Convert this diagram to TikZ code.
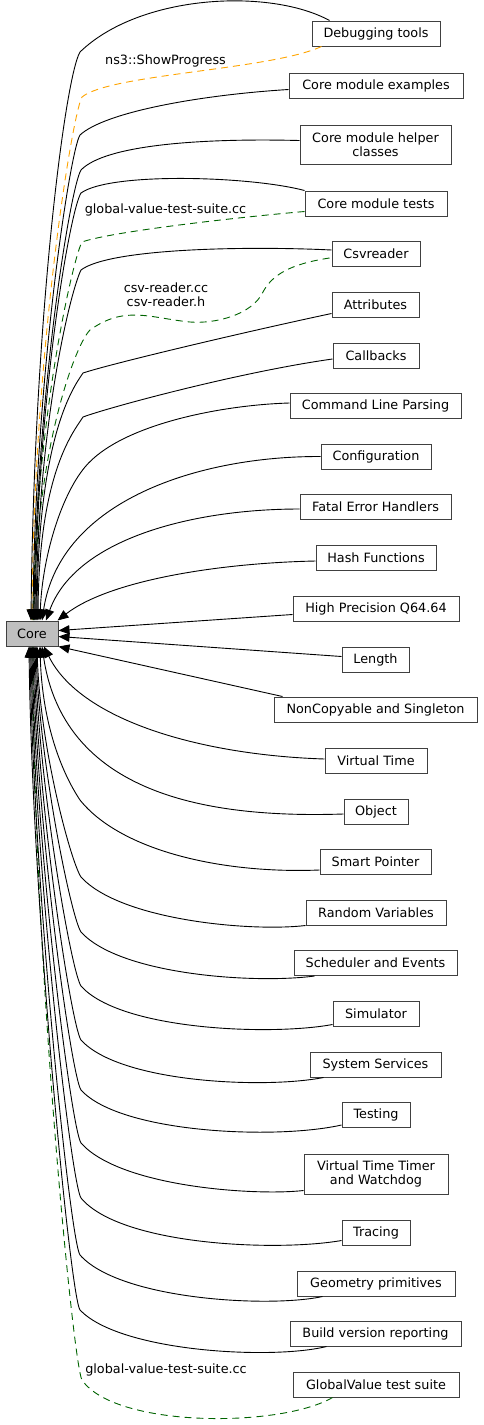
\documentclass[tikz,border=0pt]{standalone}
\usepackage{fontspec}
\setmainfont{DejaVu Sans}
\usetikzlibrary{arrows.meta,calc}
\definecolor{boxborder}{HTML}{404040}
\definecolor{corefill}{HTML}{BFBFBF}
\definecolor{dgreen}{HTML}{006400}
\definecolor{orng}{HTML}{FFA500}
\begin{document}
\begin{tikzpicture}[x=1pt,y=-1pt,
  grp/.style={draw=boxborder, fill=white, line width=1pt, inner sep=0pt, align=center,
    minimum height=25pt, font=\fontsize{12.8}{14}\selectfont},
  lbl/.style={inner sep=0pt, align=center, font=\fontsize{12.8}{14}\selectfont},
  dep/.style={draw=black, line width=0.9pt, -{Triangle[length=11pt,width=9pt]}},
  depg/.style={dep, draw=dgreen, dash pattern=on 7pt off 5pt},
  depo/.style={dep, draw=orng, dash pattern=on 7pt off 5pt}]
\useasboundingbox (0,0) rectangle (483,1425);
\fill[white] (0,0) rectangle (483,1425);
% nodes
\node[grp, minimum width=128pt] (dbg) at (376,33.5) {Debugging tools};
\node[grp, minimum width=174pt] (ex) at (376,85.5) {Core module examples};
\node[grp, minimum width=151pt, minimum height=39pt] (helper) at (375.5,144.5) {Core module helper\\classes};
\node[grp, minimum width=142pt] (tests) at (376,203.5) {Core module tests};
\node[grp, minimum width=88pt] (csv) at (376,254) {Csvreader};
\node[grp, minimum width=87pt] (attr) at (375.5,304.5) {Attributes};
\node[grp, minimum width=86pt] (cb) at (376,355.5) {Callbacks};
\node[grp, minimum width=171pt] (cmd) at (375.5,405.5) {Command Line Parsing};
\node[grp, minimum width=110pt] (conf) at (376,456.5) {Configuration};
\node[grp, minimum width=151pt] (fatal) at (375.5,507) {Fatal Error Handlers};
\node[grp, minimum width=120pt] (hash) at (376,557.5) {Hash Functions};
\node[grp, minimum width=166pt] (hp) at (376,608.5) {High Precision Q64.64};
\node[grp, minimum width=52pt, fill=corefill] (core) at (32,633.5) {Core};
\node[grp, minimum width=67pt] (len) at (375.5,659.5) {Length};
\node[grp, minimum width=203pt] (nc) at (375.5,709.5) {NonCopyable and Singleton};
\node[grp, minimum width=102pt] (vt) at (376,760.5) {Virtual Time};
\node[grp, minimum width=64pt] (obj) at (376,811.5) {Object};
\node[grp, minimum width=111pt] (sp) at (375.5,861.5) {Smart Pointer};
\node[grp, minimum width=140pt] (rv) at (376,912.5) {Random Variables};
\node[grp, minimum width=163pt] (sch) at (375.5,963) {Scheduler and Events};
\node[grp, minimum width=86pt] (sim) at (376,1013.5) {Simulator};
\node[grp, minimum width=131pt] (sys) at (375.5,1064.5) {System Services};
\node[grp, minimum width=68pt] (test) at (376,1115) {Testing};
\node[grp, minimum width=144pt, minimum height=40pt] (vtt) at (376,1174) {Virtual Time Timer\\and Watchdog};
\node[grp, minimum width=68pt] (trc) at (376,1232.5) {Tracing};
\node[grp, minimum width=158pt] (geo) at (376,1283.5) {Geometry primitives};
\node[grp, minimum width=171pt] (bld) at (375.5,1333.5) {Build version reporting};
\node[grp, minimum width=166pt] (gv) at (376,1384.5) {GlobalValue test suite};
% labels
\node[lbl] (l1) at (165.5,61) {ns3::ShowProgress};
\node[lbl] (l2) at (165.5,209.5) {global-value-test-suite.cc};
\node[lbl] (l3) at (166,294.5) {csv-reader.cc\\csv-reader.h};
\node[lbl] (l4) at (166,1370) {global-value-test-suite.cc};
% dashed edges
\draw[depo] ($(dbg.south west)+(10,0)$) .. controls (270,70) and (110,74) .. (82,97) .. controls (72,115) and (34,350) .. ($(core.north)+(0,0)$);
\draw[depg] ($(tests.south west)+(0,-5)$) .. controls (230,218) and (110,232) .. (82,242) .. controls (73,258) and (36,420) .. ($(core.north)+(1,0)$);
\draw[depg] ($(csv.west)+(-2,4)$) .. controls (290,264) and (272,275) .. (263,292) .. controls (252,315) and (215,324) .. (190,322) .. controls (150,318) and (125,305) .. (90,330) .. controls (75,345) and (36,450) .. ($(core.north)+(2,0)$);
\draw[depg] ($(gv.south west)+(40,0)$) .. controls (280,1428) and (115,1428) .. (82,1380) .. controls (73,1365) and (33,950) .. ($(core.south)+(1,0)$);
% solid edges, upper
\draw[dep] ($(dbg.north west)+(18,0)$) .. controls (270,-12) and (140,-6) .. (80,52) .. controls (65,77) and (34,321) .. ($(core.north)+(-1,0)$);
\draw[dep] ($(ex.west)+(0,4)$) .. controls (200,95) and (105,112) .. (80,135) .. controls (70,150) and (35,380) .. ($(core.north)+(1,0)$);
\draw[dep] ($(helper.west)+(0,-4)$) .. controls (200,138) and (105,145) .. (81,170) .. controls (70,188) and (36,400) .. ($(core.north)+(2,0)$);
\draw[dep] (tests.north west) .. controls (250,176) and (110,172) .. (81,193) .. controls (70,210) and (37,400) .. ($(core.north)+(3,0)$);
\draw[dep] ($(csv.west)+(0,-4)$) .. controls (250,246) and (110,248) .. (81,270) .. controls (71,290) and (38,420) .. ($(core.north)+(4,0)$);
\draw[dep] ($(attr.south west)+(0,-4)$) .. controls (240,333) and (110,364) .. (83,373) .. controls (76,384) and (38,430) .. ($(core.north)+(5,0)$);
\draw[dep] ($(cb.west)+(0,3.5)$) .. controls (240,372) and (110,407) .. (83,417) .. controls (75,430) and (39,470) .. ($(core.north)+(6,0)$);
\draw[dep] ($(cmd.west)+(0,-2.5)$) .. controls (220,405) and (120,425) .. (85,467) .. controls (60,497) and (42,560) .. ($(core.north)+(8,0)$);
\draw[dep] (conf.west) .. controls (200,456) and (60,500) .. ($(core.north)+(10,0)$);
\draw[dep] ($(fatal.west)+(0,2)$) .. controls (190,509) and (75,540) .. ($(core.north)+(14,0)$);
\draw[dep] ($(hash.west)+(0,3.5)$) .. controls (220,563) and (110,580) .. ($(core.north east)+(-1,0)$);
\draw[dep] ($(hp.west)+(0,6)$) -- ($(core.east)+(0,-3)$);
\draw[dep] ($(len.west)+(0,-3)$) -- ($(core.east)+(0,3)$);
\draw[dep] ($(nc.north west)+(9,0)$) -- (core.south east);
% solid edges, lower
\draw[dep] ($(vt.west)+(0,-1.5)$) .. controls (200,755) and (80,720) .. ($(core.south)+(12,0)$);
\draw[dep] ($(obj.west)+(0,2.5)$) .. controls (220,818) and (65,800) .. ($(core.south)+(10,0)$);
\draw[dep] ($(sp.west)+(0,8.5)$) .. controls (220,874) and (120,850) .. (80,800) .. controls (60,770) and (42,720) .. ($(core.south)+(8,0)$);
\draw[dep] (rv.south west) .. controls (250,932) and (120,920) .. (81,877) .. controls (71,862) and (40,748) .. ($(core.south)+(5,0)$);
\draw[dep] ($(sch.south west)+(21,0)$) .. controls (255,984) and (120,975) .. (81,932) .. controls (71,917) and (39,760) .. ($(core.south)+(4,0)$);
\draw[dep] ($(sim.south west)+(0,-2)$) .. controls (270,1036) and (120,1030) .. (81,986) .. controls (71,971) and (38,780) .. ($(core.south)+(3,0)$);
\draw[dep] ($(sys.south west)+(14,0)$) .. controls (265,1089) and (120,1083) .. (81,1040) .. controls (71,1025) and (37,800) .. ($(core.south)+(2,0)$);
\draw[dep] ($(test.south west)+(0,-3)$) .. controls (275,1140) and (120,1133) .. (81,1090) .. controls (71,1075) and (36,820) .. ($(core.south)+(1,0)$);
\draw[dep] ($(vtt.south west)+(0,-4)$) .. controls (255,1196) and (120,1187) .. (81,1143) .. controls (71,1128) and (35,840) .. (core.south);
\draw[dep] ($(trc.south west)+(0,-5)$) .. controls (275,1252) and (120,1245) .. (81,1198) .. controls (71,1183) and (34,860) .. ($(core.south)+(-1,0)$);
\draw[dep] ($(geo.south west)+(26,0)$) .. controls (270,1308) and (120,1300) .. (80,1255) .. controls (70,1240) and (33,880) .. ($(core.south)+(-2,0)$);
\draw[dep] ($(bld.south west)+(37,0)$) .. controls (272,1360) and (120,1352) .. (80,1310) .. controls (70,1295) and (32,900) .. ($(core.south)+(-3,0)$);
\end{tikzpicture}
\end{document}
